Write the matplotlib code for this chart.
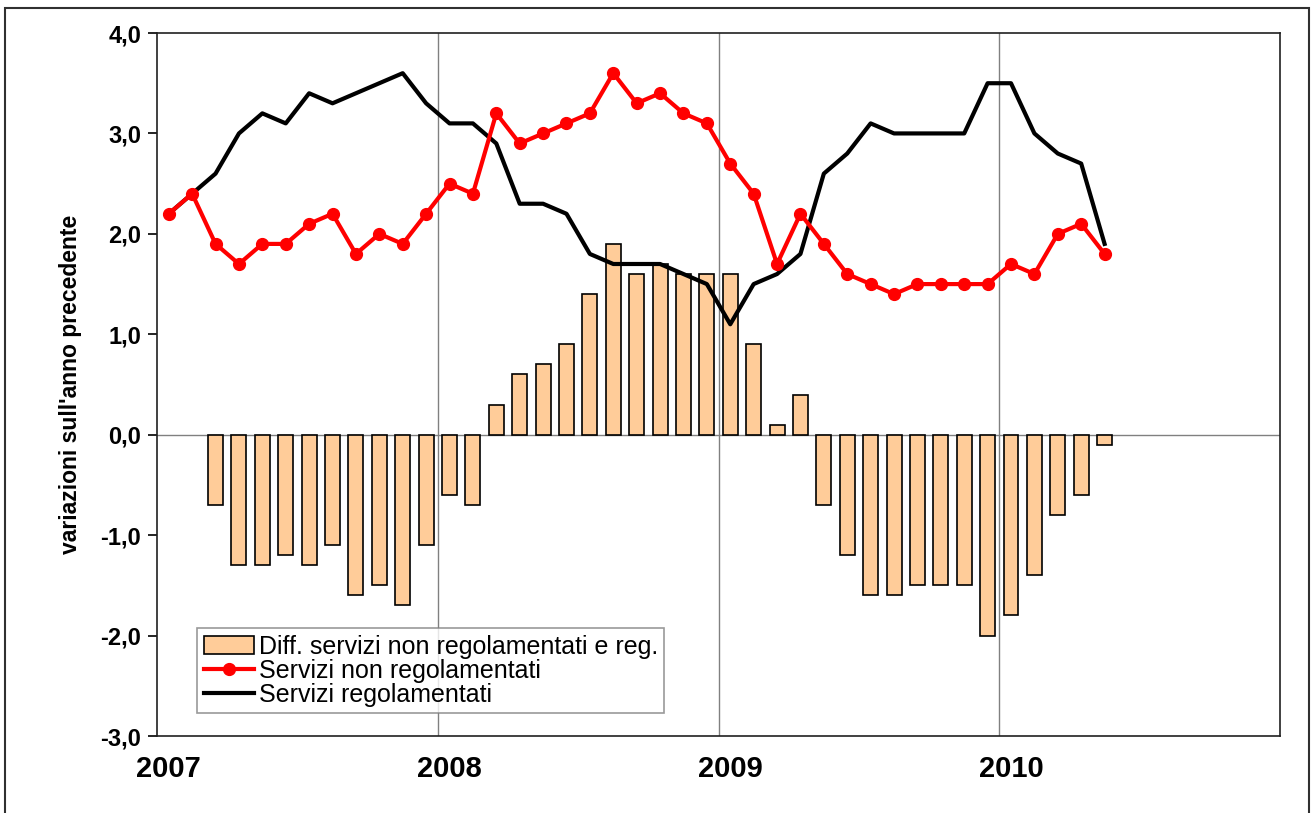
import numpy as np
import matplotlib.pyplot as plt
from matplotlib.patches import Rectangle
from matplotlib.ticker import FuncFormatter

# Monthly data, Jan 2007 - May 2010
years = ["2007", "2008", "2009", "2010"]

non_regolamentati = [2.2, 2.4, 1.9, 1.7, 1.9, 1.9, 2.1, 2.2, 1.8, 2.0, 1.9, 2.2,
                     2.5, 2.4, 3.2, 2.9, 3.0, 3.1, 3.2, 3.6, 3.3, 3.4, 3.2, 3.1,
                     2.7, 2.4, 1.7, 2.2, 1.9, 1.6, 1.5, 1.4, 1.5, 1.5, 1.5, 1.5,
                     1.7, 1.6, 2.0, 2.1, 1.8]

regolamentati = [2.2, 2.4, 2.6, 3.0, 3.2, 3.1, 3.4, 3.3, 3.4, 3.5, 3.6, 3.3,
                 3.1, 3.1, 2.9, 2.3, 2.3, 2.2, 1.8, 1.7, 1.7, 1.7, 1.6, 1.5,
                 1.1, 1.5, 1.6, 1.8, 2.6, 2.8, 3.1, 3.0, 3.0, 3.0, 3.0, 3.5,
                 3.5, 3.0, 2.8, 2.7, 1.9]

# first two months: no visible bar (difference is zero)
differenza = [np.nan, np.nan, -0.7, -1.3, -1.3, -1.2, -1.3, -1.1, -1.6, -1.5, -1.7, -1.1,
              -0.6, -0.7, 0.3, 0.6, 0.7, 0.9, 1.4, 1.9, 1.6, 1.7, 1.6, 1.6,
              1.6, 0.9, 0.1, 0.4, -0.7, -1.2, -1.6, -1.6, -1.5, -1.5, -1.5, -2.0,
              -1.8, -1.4, -0.8, -0.6, -0.1]

plt.rcParams['font.family'] = ['Liberation Sans', 'DejaVu Sans']

fig = plt.figure(figsize=(13.11, 8.13), dpi=100)
ax = fig.add_axes([0.1198, 0.0947, 0.8566, 0.8647])

# month centres
x = np.arange(len(non_regolamentati)) + 0.5

bars = ax.bar(x, differenza, width=0.64, color="#FFCC99", edgecolor="black",
              linewidth=1.2, label="Diff. servizi non regolamentati e reg.", zorder=2)
red, = ax.plot(x, non_regolamentati, color="#FF0000", linewidth=3, marker="o",
               markersize=8.5, label="Servizi non regolamentati", zorder=4)
black, = ax.plot(x, regolamentati, color="black", linewidth=3,
                 label="Servizi regolamentati", zorder=3)

ax.axhline(0, color="#808080", linewidth=1, zorder=1)
for k in range(1, len(years)):
    ax.axvline(12 * k, color="#808080", linewidth=1, zorder=1)

ax.set_xlim(0, 48)
ax.set_ylim(-3, 4)
ax.set_yticks(np.arange(-3, 4.01, 1))
ax.yaxis.set_major_formatter(FuncFormatter(lambda v, p: f"{v:.1f}".replace(".", ",")))
ax.tick_params(axis="y", direction="out", length=6.5, width=1.2, labelsize=17, pad=5)
for lbl in ax.get_yticklabels():
    lbl.set_fontweight("bold")

ax.set_xticks([])
ax.set_xticks(np.arange(len(years)) * 12 + 0.5, minor=True)
ax.set_xticklabels(years, minor=True, fontsize=21, fontweight="bold")
ax.tick_params(axis="x", which="minor", length=0, pad=14)

ax.set_ylabel("variazioni sull'anno precedente", fontsize=16.5, fontweight="bold", labelpad=13)

for s in ax.spines.values():
    s.set_color("#202020")
    s.set_linewidth(1.2)

leg = ax.legend(handles=[bars, red, black], loc="lower left",
                bbox_to_anchor=(0.036, 0.033), fontsize=18,
                frameon=True, fancybox=False, handlelength=2.0, handletextpad=0.2,
                labelspacing=0.0, borderpad=0.25, borderaxespad=0)
leg.get_frame().set_edgecolor("#808080")
leg.get_frame().set_linewidth(1.2)

# outer border of the figure
fig.patches.append(Rectangle((5 / 1311, -0.01), 1304 / 1311, 1 - 8 / 813 + 0.01,
                             transform=fig.transFigure, fill=False,
                             edgecolor="#303030", linewidth=1.5, clip_on=False))

fig.savefig("out.png", dpi=100)
